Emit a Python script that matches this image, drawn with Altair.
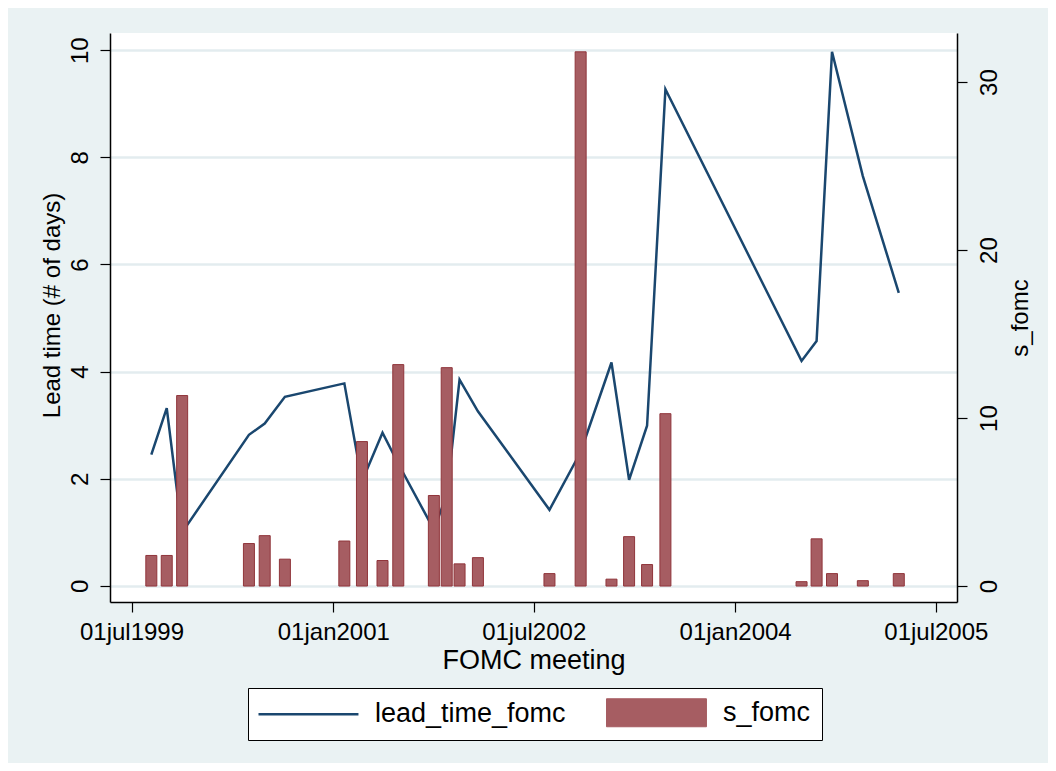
import altair as alt
import pandas as pd

# FOMC meeting dates
dates = ["1999-08-24", "1999-10-05", "1999-11-16", "2000-05-16", "2000-06-28",
         "2000-08-22", "2001-01-31", "2001-03-20", "2001-05-15", "2001-06-27",
         "2001-10-02", "2001-11-06", "2001-12-11", "2002-01-30", "2002-08-13",
         "2002-11-06", "2003-01-29", "2003-03-18", "2003-05-06", "2003-06-25",
         "2004-06-30", "2004-08-10", "2004-09-21", "2004-12-14", "2005-03-22"]

# lead_time_fomc (left axis)
lead_time_fomc = [2.45, 3.32, 1.0, 2.82, 3.03, 3.53, 3.78, 1.95, 2.86, 2.28,
                  1.05, 1.7, 3.85, 3.26, 1.42, 2.5, 4.17, 1.98, 2.99, 9.27,
                  4.2, 4.57, 9.97, 7.65, 5.47]

# s_fomc (right axis)
s_fomc = [1.82, 1.82, 11.34, 2.53, 3.0, 1.6, 2.68, 8.6, 1.52, 13.18,
          5.39, 13.0, 1.32, 1.69, 0.74, 31.8, 0.41, 2.94, 1.28, 10.26,
          0.26, 2.81, 0.74, 0.32, 0.74]

x_ticks = [(1999, 7, 1), (2001, 1, 1), (2002, 7, 1), (2004, 1, 1), (2005, 7, 1)]
left_ticks = [0, 2, 4, 6, 8, 10]
right_ticks = [0, 10, 20, 30]
series_names = ["lead_time_fomc", "s_fomc"]

df = pd.DataFrame({"date": dates, "lead": lead_time_fomc, "s": s_fomc})

NAVY = "#1A476F"
MAROON = "#90353B"
MAROON_FILL = "#A65D62"
BG = "#EAF2F3"
FONT = "Liberation Sans"

xscale = alt.Scale(type="utc",
                   domain=[alt.DateTime(year=1999, month=5, date=17, utc=True),
                           alt.DateTime(year=2005, month=8, date=14, utc=True)])
xaxis = alt.Axis(
    values=[alt.DateTime(year=y, month=m, date=d, utc=True) for (y, m, d) in x_ticks],
    labelExpr="utcFormat(datum.value,'%d') + lower(utcFormat(datum.value,'%b')) + utcFormat(datum.value,'%Y')",
    title="FOMC meeting", grid=False, tickSize=10, labelPadding=8,
    labelBaseline="top", titleBaseline="alphabetic", titleY=66,
    labelFontSize=24, titleFontSize=27,
)

color_scale = alt.Scale(domain=series_names, range=[NAVY, MAROON_FILL])
legend = alt.Legend(
    title=None, orient="none", legendX=138, legendY=655, direction="horizontal",
    symbolSize=784, labelOffset=89, columnPadding=38, padding=11,
    labelFontSize=27, labelFont=FONT, labelColor="black", labelLimit=0,
    strokeColor="black", fillColor="white",
    symbolType=alt.ExprRef(expr="datum.value === 'lead_time_fomc' ? 'M-1,0H6.14' : 'M-1,-1H6.14V1H-1Z'"),
    symbolFillColor=alt.ExprRef(expr="datum.value === 'lead_time_fomc' ? 'transparent' : '#A65D62'"),
    symbolStrokeColor=alt.ExprRef(expr="datum.value === 'lead_time_fomc' ? '#1A476F' : '#90353B'"),
    symbolStrokeWidth=alt.ExprRef(expr="datum.value === 'lead_time_fomc' ? 2.5 : 1"),
    symbolOpacity=1,
)

base = alt.Chart(df)

line = base.transform_calculate(series="'lead_time_fomc'").mark_line(
    strokeWidth=2.5
).encode(
    x=alt.X("date:T", scale=xscale, axis=xaxis),
    y=alt.Y("lead:Q", scale=alt.Scale(domain=[-0.30, 10.32], nice=False, zero=False),
            axis=alt.Axis(values=left_ticks, title="Lead time (# of days)", orient="left",
                          grid=True, gridColor="#E3ECEF", gridWidth=2.5,
                          tickSize=10, labelAngle=270, labelAlign="center",
                          labelBaseline="alphabetic", labelPadding=13,
                          titleAngle=270, titleBaseline="alphabetic", titleX=-51, titleY=272,
                          labelFontSize=24, titleFontSize=24)),
    color=alt.Color("series:N", scale=color_scale, legend=legend),
)

bars = base.transform_calculate(series="'s_fomc'").mark_bar(
    size=11, stroke=MAROON, strokeWidth=1, opacity=1
).encode(
    x=alt.X("date:T", scale=xscale),
    y=alt.Y("s:Q", scale=alt.Scale(domain=[-0.95, 32.92], nice=False, zero=False),
            axis=alt.Axis(values=right_ticks, title="s_fomc", orient="right", grid=False,
                          tickSize=10, labelAngle=270, labelAlign="center",
                          labelBaseline="alphabetic", labelPadding=29,
                          titleAngle=270, titleBaseline="alphabetic", titleX=70,
                          labelFontSize=24, titleFontSize=24)),
    y2=alt.datum(0),
    color=alt.Color("series:N", scale=color_scale, legend=legend),
)

chart = alt.layer(line, bars).resolve_scale(y="independent").properties(
    width=847, height=569,
    padding={"left": 102, "top": 25, "right": 91, "bottom": 161},
    autosize=alt.AutoSizeParams(type="none"),
    background=BG,
).configure_view(
    fill="white", stroke=None
).configure_axis(
    labelFont=FONT, titleFont=FONT, labelColor="black", titleColor="black",
    titleFontWeight="normal", domainColor="black", domainWidth=1.5,
    tickColor="black", tickWidth=1.2,
)

chart.save("out.html", embed_options={"renderer": "svg", "actions": False})
